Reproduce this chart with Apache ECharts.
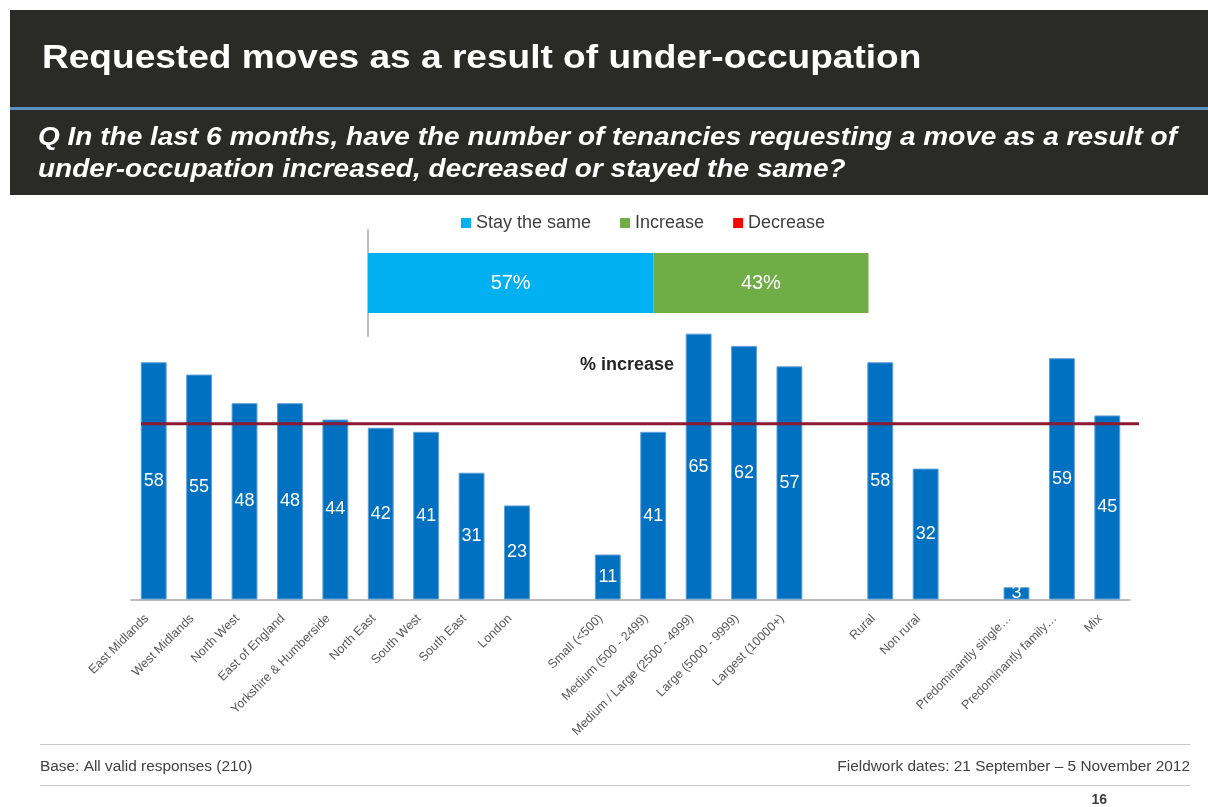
<!DOCTYPE html>
<html>
<head>
<meta charset="utf-8">
<title>Requested moves as a result of under-occupation</title>
<script src="https://cdn.jsdelivr.net/npm/echarts@6.0.0/dist/echarts.min.js"></script>
<style>
  html, body { margin: 0; padding: 0; background: #ffffff; }
  #main { width: 1208px; height: 807px; }
</style>
</head>
<body>
<div id="main"></div>
<script>
  // overall answer split (top stacked bar)
  var overallNames = ['Stay the same', 'Increase', 'Decrease'];
  var overallValues = [57, 43, 0];
  var overallColors = ['#00b0f0', '#70ad47', '#ff0000'];

  // % increase by group, '' / '-' are the gaps between groups
  var categories = [
    'East Midlands', 'West Midlands', 'North West', 'East of England', 'Yorkshire & Humberside',
    'North East', 'South West', 'South East', 'London',
    '',
    'Small (<500)', 'Medium (500 - 2499)', 'Medium / Large (2500 - 4999)', 'Large (5000 - 9999)', 'Largest (10000+)',
    '',
    'Rural', 'Non rural',
    '',
    'Predominantly single…', 'Predominantly family…', 'Mix'
  ];
  var increasePct = [58, 55, 48, 48, 44, 42, 41, 31, 23, '-', 11, 41, 65, 62, 57, '-', 58, 32, '-', 3, 59, 45];

  var FONT = "'Liberation Sans', Arial, sans-serif";

  var chart = echarts.init(document.getElementById('main'));

  var topSeries = overallNames.map(function (name, i) {
    return {
      name: name,
      type: 'bar',
      stack: 'all',
      xAxisIndex: 0,
      yAxisIndex: 0,
      barWidth: 60,
      itemStyle: { color: overallColors[i] },
      label: {
        show: true,
        position: 'inside',
        color: '#ffffff',
        fontSize: 20,
        fontFamily: FONT,
        formatter: function (p) { return p.value ? p.value + '%' : ''; }
      },
      data: [overallValues[i]]
    };
  });

  var option = {
    animation: false,
    textStyle: { fontFamily: FONT },
    legend: {
      data: overallNames,
      left: 456,
      top: 209,
      icon: 'rect',
      itemWidth: 10,
      itemHeight: 10,
      itemGap: 29,
      textStyle: { fontSize: 18, color: '#404040', fontFamily: FONT }
    },
    grid: [
      { left: 368, width: 500.5, top: 230, height: 106 },
      { left: 131, right: 78, top: 313.2, height: 286.3 },
      { left: 141, right: 69, top: 313.2, height: 286.3 }
    ],
    xAxis: [
      { gridIndex: 0, type: 'value', min: 0, max: 100, show: false },
      {
        gridIndex: 1,
        type: 'category',
        data: categories,
        axisLine: { lineStyle: { color: '#a6a6a6', width: 1.5 } },
        axisTick: { show: false },
        axisLabel: {
          interval: 0,
          rotate: 45,
          fontSize: 12.5,
          color: '#595959',
          margin: 10,
          padding: [0, 10, 0, 0],
          fontFamily: FONT
        }
      },
      { gridIndex: 2, type: 'value', min: 0, max: 1, show: false }
    ],
    yAxis: [
      {
        gridIndex: 0,
        type: 'category',
        data: [''],
        axisLine: { show: true, lineStyle: { color: '#bfbfbf', width: 2 } },
        axisTick: { show: false },
        axisLabel: { show: false }
      },
      { gridIndex: 1, type: 'value', min: 0, max: 70, show: false, splitLine: { show: false } },
      { gridIndex: 2, type: 'value', min: 0, max: 70, show: false, splitLine: { show: false } }
    ],
    series: topSeries.concat([
      {
        name: '% increase',
        type: 'bar',
        xAxisIndex: 1,
        yAxisIndex: 1,
        barWidth: '57%',
        itemStyle: { color: '#0070c0', borderColor: '#5fa0d8', borderWidth: 1 },
        label: {
          show: true,
          position: 'inside',
          color: '#ffffff',
          fontSize: 18,
          fontFamily: FONT
        },
        data: increasePct
      },
      {
        name: 'overall increase',
        type: 'line',
        xAxisIndex: 2,
        yAxisIndex: 2,
        symbol: 'none',
        z: 5,
        lineStyle: { color: '#8b1a32', width: 3 },
        data: [[0, overallValues[1]], [1, overallValues[1]]]
      }
    ]),
    graphic: [
      { type: 'rect', shape: { x: 10, y: 10, width: 1198, height: 97 }, style: { fill: '#2a2a27' }, z: -1 },
      { type: 'rect', shape: { x: 10, y: 107, width: 1198, height: 3 }, style: { fill: '#5b8fc0' }, z: -1 },
      { type: 'rect', shape: { x: 10, y: 110, width: 1198, height: 85 }, style: { fill: '#2a2a27' }, z: -1 },
      {
        type: 'text', x: 42, y: 59, scaleX: 1.09,
        style: {
          text: 'Requested moves as a result of under-occupation',
          fill: '#ffffff', font: 'bold 34px ' + FONT, verticalAlign: 'middle'
        }
      },
      {
        type: 'text', x: 38, y: 138, scaleX: 1.12,
        style: {
          text: 'Q In the last 6 months, have the number of tenancies requesting a move as a result of',
          fill: '#ffffff', font: 'italic bold 25px ' + FONT, verticalAlign: 'middle'
        }
      },
      {
        type: 'text', x: 38, y: 170, scaleX: 1.12,
        style: {
          text: 'under-occupation increased, decreased or stayed the same?',
          fill: '#ffffff', font: 'italic bold 25px ' + FONT, verticalAlign: 'middle'
        }
      },
      {
        type: 'text', x: 580, y: 365,
        style: { text: '% increase', fill: '#262626', font: 'bold 18px ' + FONT, verticalAlign: 'middle' }
      },
      { type: 'rect', shape: { x: 40, y: 744, width: 1150, height: 1 }, style: { fill: '#c8c8c8' } },
      { type: 'rect', shape: { x: 40, y: 785, width: 1150, height: 1 }, style: { fill: '#c8c8c8' } },
      {
        type: 'text', x: 40, y: 767, scaleX: 1.1,
        style: { text: 'Base: All valid responses (210)', fill: '#404040', font: '14px ' + FONT, verticalAlign: 'middle' }
      },
      {
        type: 'text', x: 1190, y: 767, scaleX: 1.1,
        style: { text: 'Fieldwork dates: 21 September – 5 November 2012', fill: '#404040', font: '14px ' + FONT, verticalAlign: 'middle', align: 'right' }
      },
      {
        type: 'text', x: 1107, y: 800,
        style: { text: '16', fill: '#404040', font: 'bold 14px ' + FONT, verticalAlign: 'middle', align: 'right' }
      }
    ]
  };

  chart.setOption(option);
</script>
</body>
</html>
